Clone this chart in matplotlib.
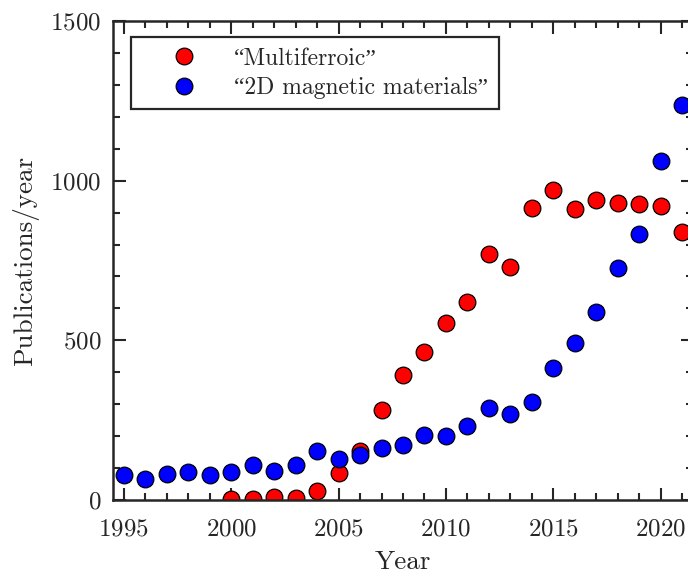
import matplotlib
matplotlib.use("Agg")
import numpy as np
import matplotlib.pyplot as plt
from matplotlib.ticker import MultipleLocator
from matplotlib.font_manager import FontProperties

plt.rcParams['font.family'] = 'cmr10'
plt.rcParams['mathtext.fontset'] = 'cm'
plt.rcParams['axes.formatter.use_mathtext'] = True

ink = '#262626'

years_mf = list(range(2000, 2022))
pubs_mf = [2, 2, 8, 5, 28, 84, 153, 282, 390, 463, 554, 620,
           770, 729, 914, 971, 911, 940, 929, 927, 921, 840]

years_2d = list(range(1995, 2022))
pubs_2d = [78, 65, 81, 87, 78, 88, 110, 91, 109, 155, 128, 141, 163,
           172, 204, 200, 232, 289, 268, 308, 413, 492, 588, 727, 832, 1062, 1237]

labels = ['\u201cMultiferroic\u201d', '\u201c2D magnetic materials\u201d']

fig = plt.figure(figsize=(6.88, 5.74), dpi=100)
ax = fig.add_axes([113 / 688, 74 / 574, 580 / 688, 479 / 574])

ax.plot(years_mf, pubs_mf, 'o', ls='none', ms=12, mfc='#ff0000', mec='k',
        mew=0.9, label=labels[0])
ax.plot(years_2d, pubs_2d, 'o', ls='none', ms=12, mfc='#0000ff', mec='k',
        mew=0.9, label=labels[1])

ax.set_xlim(1994.5, 2021.5)
ax.set_ylim(0, 1500)
ax.xaxis.set_major_locator(MultipleLocator(5))
ax.xaxis.set_minor_locator(MultipleLocator(1))
ax.yaxis.set_major_locator(MultipleLocator(500))
ax.yaxis.set_minor_locator(MultipleLocator(100))

ax.tick_params(which='both', direction='in', top=True, right=True,
               color=ink, labelcolor=ink, labelsize=18, width=1.5)
ax.tick_params(which='major', length=9)
ax.tick_params(which='minor', length=5)
ax.xaxis.set_tick_params(which='major', pad=13)
ax.yaxis.set_tick_params(which='major', pad=8.5)
for sp in ax.spines.values():
    sp.set_color(ink)
    sp.set_linewidth(1.8)

ax.set_xlabel('Year', fontsize=19.5, color=ink, labelpad=7)
ax.set_ylabel('Publications/year', fontsize=19.5, color=ink, labelpad=8)

leg_font = FontProperties(family=['cmr10', 'Liberation Serif'], size=17)
leg = ax.legend(loc='upper left', bbox_to_anchor=(0.031, 0.967), prop=leg_font,
                frameon=True, fancybox=False, edgecolor=ink, framealpha=1,
                borderpad=0.45, handletextpad=0.31, handlelength=3.61,
                labelspacing=0.3, borderaxespad=0)
leg.get_frame().set_linewidth(1.6)
for t in leg.get_texts():
    t.set_color(ink)

fig.savefig("out.png", dpi=100)
